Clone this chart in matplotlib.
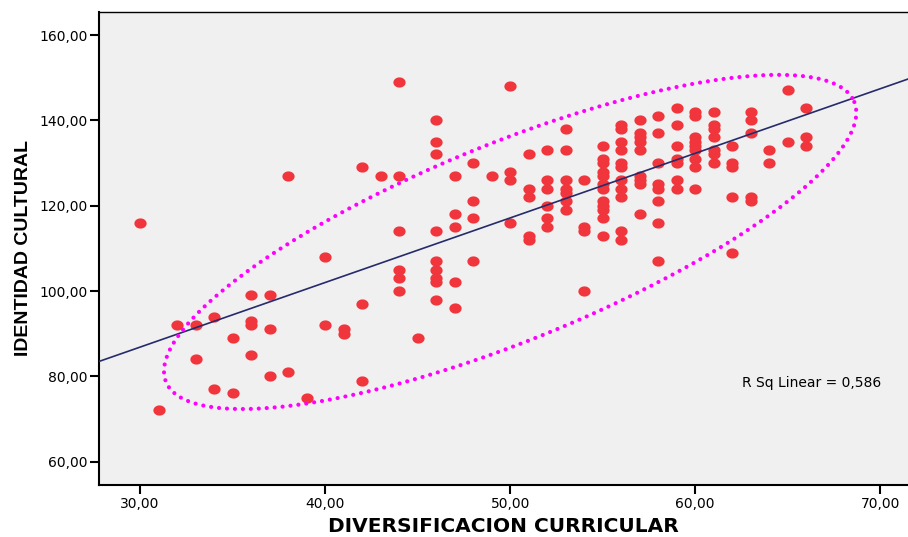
import matplotlib
matplotlib.use("Agg")
import matplotlib.pyplot as plt
from matplotlib.ticker import FuncFormatter
import numpy as np

plt.rcParams['font.family'] = ['Liberation Sans', 'DejaVu Sans']

# diversificacion curricular (x) -> identidad cultural (y)
x_vals = [30, 31, 32, 33, 33, 34, 34, 35, 35,
          36, 36, 36, 36, 37, 37, 37, 38, 38, 39,
          40, 40, 41, 41, 42, 42, 42, 43,
          44, 44, 44, 44, 44, 44, 45,
          46, 46, 46, 46, 46, 46, 46, 46, 46,
          47, 47, 47, 47, 47, 48, 48, 48, 48, 49,
          50, 50, 50, 50, 51, 51, 51, 51, 51,
          52, 52, 52, 52, 52, 52,
          53, 53, 53, 53, 53, 53, 53,
          54, 54, 54, 54,
          55, 55, 55, 55, 55, 55, 55, 55, 55, 55, 55, 55,
          56, 56, 56, 56, 56, 56, 56, 56, 56, 56, 56,
          57, 57, 57, 57, 57, 57, 57, 57, 57,
          58, 58, 58, 58, 58, 58, 58, 58,
          59, 59, 59, 59, 59, 59, 59,
          60, 60, 60, 60, 60, 60, 60, 60, 60,
          61, 61, 61, 61, 61, 61, 61,
          62, 62, 62, 62, 62,
          63, 63, 63, 63, 63,
          64, 64, 65, 65, 66, 66, 66]
y_vals = [116, 72, 92, 92, 84, 94, 77, 89, 76,
          99, 93, 92, 85, 99, 91, 80, 127, 81, 75,
          108, 92, 91, 90, 129, 97, 79, 127,
          149, 127, 114, 105, 103, 100, 89,
          140, 135, 132, 114, 107, 105, 103, 102, 98,
          127, 118, 115, 102, 96, 130, 121, 117, 107, 127,
          148, 128, 126, 116, 132, 124, 122, 113, 112,
          133, 126, 124, 120, 117, 115,
          138, 133, 126, 124, 123, 121, 119,
          126, 115, 114, 100,
          134, 131, 130, 128, 127, 125, 124, 121, 120, 119, 117, 113,
          139, 138, 135, 133, 130, 129, 126, 124, 122, 114, 112,
          140, 137, 136, 135, 133, 127, 126, 125, 118,
          141, 137, 130, 125, 124, 121, 116, 107,
          143, 139, 134, 131, 130, 126, 124,
          142, 141, 136, 135, 134, 133, 131, 129, 124,
          142, 139, 138, 136, 133, 132, 130,
          134, 130, 129, 122, 109,
          142, 140, 137, 122, 121,
          133, 130, 147, 135, 143, 136, 134]

x_ticks = [30, 40, 50, 60, 70]
y_ticks = [60, 80, 100, 120, 140, 160]
r_sq_label = "R Sq Linear = 0,586"

# hand-drawn oval: centre and two half-axis vectors in data units
oval_center = (50.0, 111.5)
oval_u = (18.6, 32.8)
oval_v = (2.0, -21.4)

fig = plt.figure(figsize=(9.08, 5.37), dpi=100)
ax = fig.add_axes([0.1094, 0.0974, 0.8906, 0.8803])
ax.set_facecolor('#F0F0F0')

# slightly wide dot like the stretched SPSS export
t = np.linspace(0, 2 * np.pi, 40)
dot = np.column_stack([1.2 * np.cos(t), np.sin(t)])
ax.scatter(x_vals, y_vals, marker=dot, s=78, color='#F0363C', linewidths=0, zorder=3)

ax.set_xlim(27.8, 71.5)
ax.set_ylim(54.6, 165.4)

# linear fit line across the whole x range
slope, intercept = np.polyfit(x_vals, y_vals, 1)
xl = np.array(ax.get_xlim())
ax.plot(xl, slope * xl + intercept, color='#262B6B', lw=1.2, zorder=4)

tt = np.linspace(0, 2 * np.pi, 400)
ox = oval_center[0] + oval_u[0] * np.cos(tt) + oval_v[0] * np.sin(tt)
oy = oval_center[1] + oval_u[1] * np.cos(tt) + oval_v[1] * np.sin(tt)
ax.plot(ox, oy, color='#FF00FF', lw=3.0, linestyle=(0, (0.01, 1.9)),
        dash_capstyle='round', zorder=5)

ax.text(62.55, 78.4, r_sq_label, fontsize=10, family='DejaVu Sans',
        va='center', ha='left')

ax.set_xticks(x_ticks)
ax.set_yticks(y_ticks)
fmt = FuncFormatter(lambda v, p: f"{v:.2f}".replace('.', ','))
ax.xaxis.set_major_formatter(fmt)
ax.yaxis.set_major_formatter(fmt)
ax.tick_params(direction='out', length=6.5, width=1.5, labelsize=10, pad=2, colors='black')
for lab in ax.get_xticklabels() + ax.get_yticklabels():
    lab.set_family('DejaVu Sans')

ax.spines['right'].set_visible(False)
ax.spines['left'].set_linewidth(1.5)
ax.spines['bottom'].set_linewidth(1.5)
ax.spines['top'].set_linewidth(1.0)

ax.set_xlabel("DIVERSIFICACION CURRICULAR", fontsize=14.5, fontweight='bold',
              family='DejaVu Sans', labelpad=5)
ax.set_ylabel("IDENTIDAD CULTURAL", fontsize=14, fontweight='bold', labelpad=5)

fig.savefig("out.png", dpi=100)
